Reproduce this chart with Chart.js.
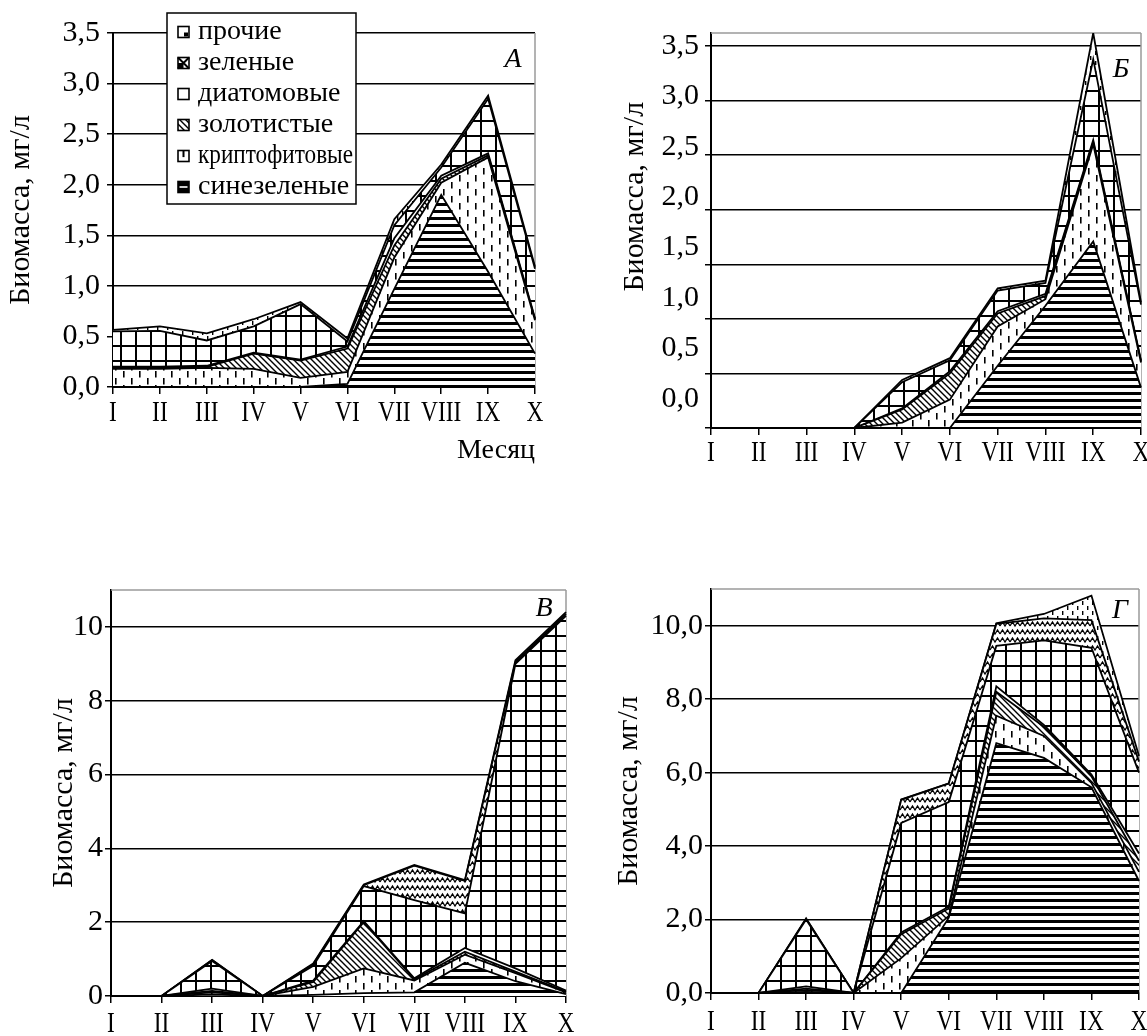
<!DOCTYPE html>
<html lang="ru">
<head>
<meta charset="utf-8">
<title>Биомасса фитопланктона по месяцам</title>
<script src="https://cdn.jsdelivr.net/npm/chart.js@4.4.1/dist/chart.umd.min.js"></script>
<style>
  html, body { margin: 0; padding: 0; background: #fff; }
  #page { position: relative; width: 1147px; height: 1036px; overflow: hidden; background: #fff; }
  #page canvas { position: absolute; }
</style>
</head>
<body>
<div id="page">
  <canvas id="panelA" width="573" height="480" style="left:0;top:0;width:573px;height:480px"></canvas>
  <canvas id="panelB" width="574" height="480" style="left:573px;top:0;width:574px;height:480px"></canvas>
  <canvas id="panelC" width="600" height="536" style="left:0;top:500px;width:600px;height:536px"></canvas>
  <canvas id="panelD" width="547" height="536" style="left:600px;top:500px;width:547px;height:536px"></canvas>
</div>
<script>
const FONT_FAMILY = 'Liberation Serif';
const months = ['I', 'II', 'III', 'IV', 'V', 'VI', 'VII', 'VIII', 'IX', 'X'];
const yTitle = 'Биомасса, мг/л';
const xTitle = 'Месяц';

// Панель А, мг/л по группам (снизу вверх в стопке)
const aBlueGreen = [0, 0, 0, 0, 0, 0.03, 0.97, 1.9, 1.14, 0.33];
const aCrypto    = [0.18, 0.18, 0.19, 0.18, 0.09, 0.12, 0.31, 0.12, 1.13, 0.33];
const aGolden    = [0.01, 0.01, 0.01, 0.15, 0.17, 0.23, 0.12, 0.04, 0.02, 0.01];
const aDiatom    = [0.01, 0.01, 0.01, 0.01, 0.01, 0.02, 0.07, 0.03, 0.02, 0.01];
const aGreen     = [0.35, 0.355, 0.25, 0.26, 0.55, 0.05, 0.13, 0.08, 0.54, 0.49];
const aOther     = [0.015, 0.045, 0.07, 0.07, 0.02, 0.03, 0.06, 0.03, 0.03, 0.02];

// Панель Б
const bBlueGreen = [0, 0, 0, 0, 0, 0, 0.57, 1.12, 1.71, 0.37];
const bCrypto    = [0, 0, 0, 0, 0.05, 0.26, 0.36, 0.06, 0.89, 0.23];
const bGolden    = [0, 0, 0, 0, 0.12, 0.24, 0.12, 0.03, 0.02, 0.01];
const bDiatom    = [0, 0, 0, 0, 0.01, 0.02, 0.02, 0.02, 0.02, 0.01];
const bGreen     = [0, 0, 0, 0, 0.24, 0.10, 0.19, 0.10, 0.74, 0.51];
const bOther     = [0, 0, 0, 0, 0.02, 0.02, 0.02, 0.02, 0.24, 0.02];

// Панель В
const cBlueGreen = [0, 0, 0.04, 0, 0.03, 0.08, 0.1, 0.9, 0.4, 0.05];
const cCrypto    = [0, 0, 0.06, 0, 0.22, 0.67, 0.32, 0.22, 0.22, 0.05];
const cGolden    = [0, 0, 0.04, 0, 0.13, 1.25, 0.03, 0.08, 0.04, 0.02];
const cDiatom    = [0, 0, 0.06, 0, 0.04, 0.03, 0.03, 0.1, 0.09, 0.03];
const cGreen     = [0, 0, 0.75, 0, 0.40, 0.95, 2.12, 0.94, 8.25, 10.15];
const cDino      = [0, 0, 0.02, 0, 0.04, 0.02, 0.93, 0.88, 0.05, 0.05];
const cOther     = [0, 0, 0.01, 0, 0.02, 0.02, 0.02, 0.02, 0.05, 0.05];

// Панель Г
const dBlueGreen = [0, 0, 0.03, 0, 0, 2.05, 6.8, 6.4, 5.6, 3.05];
const dCrypto    = [0, 0, 0.05, 0, 0.95, 0.05, 0.75, 0.6, 0.12, 0.25];
const dGolden    = [0, 0, 0.04, 0, 0.65, 0.2, 0.65, 0.25, 0.18, 0.3];
const dDiatom    = [0, 0, 0.06, 0, 0.05, 0.05, 0.15, 0.05, 0.05, 0.2];
const dGreen     = [0, 0, 1.82, 0, 2.98, 2.85, 1.1, 2.3, 3.45, 2.2];
const dDino      = [0, 0, 0.02, 0, 0.63, 0.5, 0.6, 0.6, 0.75, 0.3];
const dOther     = [0, 0, 0.01, 0, 0.01, 0.01, 0.02, 0.12, 0.67, 0.15];

// Штриховка каждой группы
const hatchOf = {
  'синезеленые': 'hlines',
  'криптофитовые': 'vdash',
  'золотистые': 'diag',
  'диатомовые': 'plain',
  'зеленые': 'grid',
  'динофитовые': 'wave',
  'прочие': 'dots'
};

function makeHatch(ctx, kind) {
  if (kind === 'plain') return '#ffffff';
  const tiles = { hlines: [8, 7], vdash: [16, 14], diag: [6, 6], grid: [15, 15], wave: [10, 8], dots: [10, 10] };
  const [w, h] = tiles[kind];
  const c = document.createElement('canvas');
  c.width = w; c.height = h;
  const g = c.getContext('2d');
  g.fillStyle = '#fff'; g.fillRect(0, 0, w, h);
  g.fillStyle = '#000'; g.strokeStyle = '#000';
  switch (kind) {
    case 'hlines': g.fillRect(0, 0, w, 3); break;
    case 'vdash': g.fillRect(3, 0, 1.6, 6.5); g.fillRect(11, 7, 1.6, 6.5); break;
    case 'diag':
      g.lineWidth = 1.4; g.beginPath();
      g.moveTo(-1, -1); g.lineTo(w + 1, h + 1);
      g.moveTo(w - 1, -1); g.lineTo(w + 1, 1);
      g.moveTo(-1, h - 1); g.lineTo(1, h + 1);
      g.stroke(); break;
    case 'grid': g.fillRect(0, 0, w, 2); g.fillRect(0, 0, 2, h); break;
    case 'wave':
      g.lineWidth = 1.3; g.beginPath();
      g.moveTo(0, 6); g.lineTo(2.5, 2); g.lineTo(5, 6); g.lineTo(7.5, 2); g.lineTo(10, 6);
      g.stroke(); break;
    case 'dots': g.fillRect(2, 1, 1.4, 4); g.fillRect(7, 6, 1.4, 4); break;
  }
  return ctx.createPattern(c, 'repeat');
}

function stackedDatasets(ctx, series) {
  return series.map((s, i) => ({
    label: s.name,
    data: s.data,
    backgroundColor: makeHatch(ctx, hatchOf[s.name]),
    borderColor: '#000',
    borderWidth: 1.8,
    fill: i === 0 ? 'origin' : '-1',
    pointRadius: 0,
    tension: 0
  }));
}

const comma1 = v => Number(v).toFixed(1).replace('.', ',');
const whole = v => String(Math.round(v));

// Римские подписи месяцев, сжатые по ширине
function romanTicks(offset) {
  return {
    id: 'romanTicks',
    afterDraw(chart) {
      const s = chart.scales.x, ctx = chart.ctx;
      ctx.save();
      ctx.font = '30px "' + FONT_FAMILY + '"';
      ctx.fillStyle = '#000';
      ctx.textAlign = 'center';
      ctx.textBaseline = 'middle';
      s.ticks.forEach((t, i) => {
        const x = s.getPixelForTick(i);
        ctx.save();
        ctx.translate(x, s.top + offset);
        ctx.scale(0.78, 1);
        ctx.fillText(s.getLabelForValue(t.value), 0, 0);
        ctx.restore();
      });
      ctx.restore();
    }
  };
}

// Серая рамка области построения и буква панели
function frameAndLetter(opts) {
  return {
    id: 'frameAndLetter',
    beforeDatasetsDraw(chart) {
      const { ctx, chartArea: a } = chart;
      ctx.save();
      ctx.strokeStyle = '#9a9a9a';
      ctx.lineWidth = 1.5;
      ctx.beginPath();
      if (opts.top) { ctx.moveTo(a.left, a.top); ctx.lineTo(a.right, a.top); }
      ctx.moveTo(a.right, a.top); ctx.lineTo(a.right, a.bottom);
      ctx.stroke();
      ctx.restore();
    },
    afterDraw(chart) {
      const ctx = chart.ctx;
      ctx.save();
      ctx.font = 'italic 28px "' + FONT_FAMILY + '"';
      ctx.fillStyle = '#000';
      ctx.textAlign = 'center';
      ctx.textBaseline = 'middle';
      ctx.fillText(opts.letter, opts.lx, opts.ly);
      ctx.restore();
    }
  };
}

// Легенда в рамке (панель А)
function boxLegend(box) {
  return {
    id: 'boxLegend',
    afterDraw(chart) {
      const ctx = chart.ctx;
      const items = chart.data.datasets.slice().reverse();
      ctx.save();
      ctx.fillStyle = '#fff';
      ctx.fillRect(box.x, box.y, box.w, box.h);
      ctx.strokeStyle = '#000';
      ctx.lineWidth = 1.5;
      ctx.strokeRect(box.x, box.y, box.w, box.h);
      ctx.font = '28px "' + FONT_FAMILY + '"';
      ctx.textBaseline = 'middle';
      ctx.textAlign = 'left';
      items.forEach((ds, i) => {
        const yc = box.firstRow + i * box.rowStep;
        const s = 11, mx = box.x + 11, my = yc - s / 2;
        const kind = hatchOf[ds.label];
        ctx.lineWidth = 1.6;
        ctx.strokeStyle = '#000';
        ctx.fillStyle = '#fff';
        ctx.fillRect(mx, my, s, s);
        ctx.fillStyle = '#000';
        if (kind === 'hlines') {
          ctx.fillRect(mx, my, s, s);
          ctx.fillStyle = '#fff';
          ctx.fillRect(mx + 1.5, my + s / 2 - 0.8, s - 3, 1.6);
        } else if (kind === 'vdash') {
          ctx.fillRect(mx + s / 2 - 1, my, 2, s * 0.6);
        } else if (kind === 'diag') {
          ctx.fillStyle = ds.backgroundColor;
          ctx.fillRect(mx, my, s, s);
        } else if (kind === 'grid') {
          ctx.beginPath();
          ctx.moveTo(mx, my); ctx.lineTo(mx + s, my + s);
          ctx.moveTo(mx + s, my); ctx.lineTo(mx, my + s);
          ctx.lineWidth = 2; ctx.stroke();
          ctx.fillRect(mx, my + s / 2, s / 2, s / 2);
        } else if (kind === 'dots') {
          ctx.fillRect(mx + s - 5, my + s - 5, 4, 4);
        }
        ctx.lineWidth = 1.6;
        ctx.strokeRect(mx, my, s, s);
        ctx.fillStyle = '#000';
        ctx.fillText(ds.label, box.x + 31, yc, box.w - 34);
      });
      ctx.restore();
    }
  };
}

function yAxisBase(cfg) {
  return {
    position: 'left',
    stacked: true,
    min: 0,
    max: cfg.max,
    ticks: {
      display: cfg.showLabels !== false,
      stepSize: cfg.step,
      includeBounds: false,
      callback: cfg.fmt,
      font: { family: FONT_FAMILY, size: 30 },
      color: '#000',
      padding: cfg.labelPad
    },
    grid: { color: '#000', lineWidth: 1.5, drawTicks: true, tickLength: 6, tickColor: '#000', tickWidth: 1.5 },
    border: { display: true, color: '#000', width: 2 },
    title: cfg.titlePad === undefined ? { display: false } : {
      display: true, text: yTitle, color: '#000',
      font: { family: FONT_FAMILY, size: 30 },
      padding: { top: cfg.titlePad, bottom: 0 }
    },
    afterFit: s => { s.width = cfg.width; }
  };
}

function xAxisBase(height, withTitle) {
  return {
    type: 'category',
    offset: false,
    ticks: { display: false, autoSkip: false },
    grid: { display: true, drawOnChartArea: false, drawTicks: true, tickLength: 7, color: '#000', lineWidth: 1.5 },
    border: { display: true, color: '#000', width: 2 },
    title: withTitle ? {
      display: true, text: xTitle, align: 'end', color: '#000',
      font: { family: FONT_FAMILY, size: 28 },
      padding: { top: 0, bottom: 13 }
    } : { display: false },
    afterFit: s => { s.height = height; }
  };
}

function baseOptions(pad) {
  return {
    responsive: false,
    animation: false,
    devicePixelRatio: 1,
    events: [],
    layout: { padding: { top: pad.top, right: pad.right, left: 0, bottom: 0 } },
    plugins: { legend: { display: false }, tooltip: { enabled: false } },
    elements: { line: { tension: 0 } }
  };
}

// ---------- Панель А ----------
(function () {
  const el = document.getElementById('panelA');
  const ctx = el.getContext('2d');
  const series = [
    { name: 'синезеленые', data: aBlueGreen },
    { name: 'криптофитовые', data: aCrypto },
    { name: 'золотистые', data: aGolden },
    { name: 'диатомовые', data: aDiatom },
    { name: 'зеленые', data: aGreen },
    { name: 'прочие', data: aOther }
  ];
  const options = baseOptions({ top: 33, right: 38 });
  options.scales = {
    x: xAxisBase(93, true),
    y: yAxisBase({ max: 3.5, step: 0.5, fmt: comma1, labelPad: 7, width: 113, titlePad: 3 })
  };
  new Chart(el, {
    type: 'line',
    data: { labels: months, datasets: stackedDatasets(ctx, series) },
    options,
    plugins: [romanTicks(26), frameAndLetter({ top: false, letter: 'А', lx: 513, ly: 60 }),
              boxLegend({ x: 167, y: 13, w: 189, h: 191, firstRow: 32, rowStep: 31 })]
  });
})();

// ---------- Панель Б ----------
(function () {
  const el = document.getElementById('panelB');
  const ctx = el.getContext('2d');
  const series = [
    { name: 'синезеленые', data: bBlueGreen },
    { name: 'криптофитовые', data: bCrypto },
    { name: 'золотистые', data: bGolden },
    { name: 'диатомовые', data: bDiatom },
    { name: 'зеленые', data: bGreen },
    { name: 'прочие', data: bOther }
  ];
  const options = baseOptions({ top: 33, right: 6 });
  const yMain = yAxisBase({ max: 3.62, step: 0.5, fmt: comma1, labelPad: 0, width: 6, showLabels: false });
  // шкала подписей, смещённая относительно линий сетки
  const yLabels = {
    position: 'left',
    weight: 1,
    min: -0.287,
    max: 3.626,
    ticks: {
      stepSize: 0.5, includeBounds: false, callback: comma1,
      font: { family: FONT_FAMILY, size: 30 }, color: '#000', padding: 6
    },
    grid: { display: false, drawTicks: false },
    border: { display: false },
    title: {
      // ведущие пробелы поднимают подпись оси выше середины
      display: true, text: ' '.repeat(9) + yTitle, color: '#000',
      font: { family: FONT_FAMILY, size: 30 },
      padding: { top: 44, bottom: 0 }
    },
    afterFit: s => { s.width = 132; }
  };
  options.scales = { x: xAxisBase(52, false), y: yMain, yLabels };
  new Chart(el, {
    type: 'line',
    data: { labels: months, datasets: stackedDatasets(ctx, series) },
    options,
    plugins: [romanTicks(25), frameAndLetter({ top: true, letter: 'Б', lx: 548, ly: 70 })]
  });
})();

// ---------- Панель В ----------
(function () {
  const el = document.getElementById('panelC');
  const ctx = el.getContext('2d');
  const series = [
    { name: 'синезеленые', data: cBlueGreen },
    { name: 'криптофитовые', data: cCrypto },
    { name: 'золотистые', data: cGolden },
    { name: 'диатомовые', data: cDiatom },
    { name: 'зеленые', data: cGreen },
    { name: 'динофитовые', data: cDino },
    { name: 'прочие', data: cOther }
  ];
  const options = baseOptions({ top: 90, right: 34 });
  options.scales = {
    x: xAxisBase(40, false),
    y: yAxisBase({ max: 11, step: 2, fmt: whole, labelPad: 2, width: 111, titlePad: 46 })
  };
  new Chart(el, {
    type: 'line',
    data: { labels: months, datasets: stackedDatasets(ctx, series) },
    options,
    plugins: [romanTicks(28), frameAndLetter({ top: true, letter: 'В', lx: 544, ly: 109 })]
  });
})();

// ---------- Панель Г ----------
(function () {
  const el = document.getElementById('panelD');
  const ctx = el.getContext('2d');
  const series = [
    { name: 'синезеленые', data: dBlueGreen },
    { name: 'криптофитовые', data: dCrypto },
    { name: 'золотистые', data: dGolden },
    { name: 'диатомовые', data: dDiatom },
    { name: 'зеленые', data: dGreen },
    { name: 'динофитовые', data: dDino },
    { name: 'прочие', data: dOther }
  ];
  const options = baseOptions({ top: 89, right: 8 });
  options.scales = {
    x: xAxisBase(43, false),
    y: yAxisBase({ max: 11, step: 2, fmt: comma1, labelPad: 2, width: 111, titlePad: 11 })
  };
  new Chart(el, {
    type: 'line',
    data: { labels: months, datasets: stackedDatasets(ctx, series) },
    options,
    plugins: [romanTicks(29), frameAndLetter({ top: true, letter: 'Г', lx: 520, ly: 111 })]
  });
})();
</script>
</body>
</html>
